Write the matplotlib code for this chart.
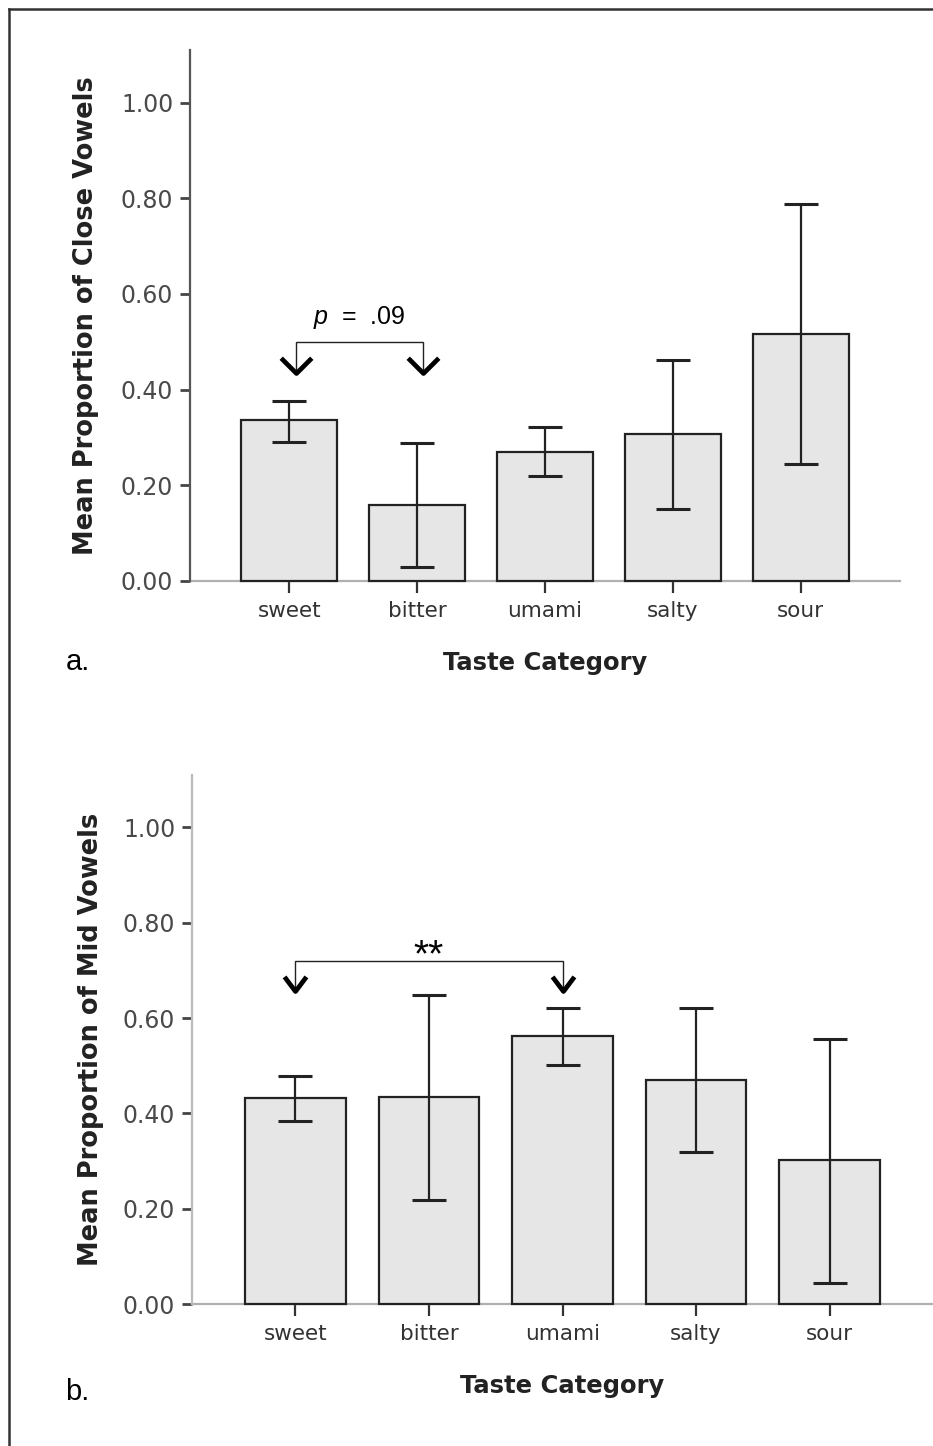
import matplotlib
matplotlib.use("Agg")
import matplotlib.pyplot as plt
import numpy as np
from matplotlib.lines import Line2D
from matplotlib.path import Path
from matplotlib.ticker import FormatStrFormatter

# data
tastes = ["sweet", "bitter", "umami", "salty", "sour"]

close_mean = [0.336, 0.159, 0.269, 0.308, 0.517]
close_low = [0.291, 0.030, 0.220, 0.150, 0.244]
close_high = [0.377, 0.289, 0.321, 0.462, 0.789]

mid_mean = [0.432, 0.435, 0.562, 0.471, 0.302]
mid_low = [0.385, 0.219, 0.502, 0.319, 0.045]
mid_high = [0.479, 0.648, 0.621, 0.622, 0.557]

W, H = 933, 1446

plt.rcParams["mathtext.fontset"] = "custom"
plt.rcParams["mathtext.it"] = "Liberation Sans:italic"
plt.rcParams["mathtext.rm"] = "Liberation Sans"


def px_rect(left, right, top, bottom):
    """Axes rectangle in figure fractions from pixel edges."""
    return [left / W, 1 - bottom / H, (right - left) / W, (bottom - top) / H]


def chevron(spread):
    return Path([(-spread, 1.0), (0.0, 0.0), (spread, 1.0)],
                [Path.MOVETO, Path.LINETO, Path.LINETO])


def draw_panel(ax, means, low, high, ylabel, spine_color):
    x = np.arange(len(tastes))
    means = np.array(means)
    yerr = [means - np.array(low), np.array(high) - means]

    ax.bar(x, means, width=0.75, color="#e6e6e6", edgecolor="#222222",
           linewidth=1.6, zorder=3, clip_on=False)
    ax.errorbar(x, means, yerr=yerr, fmt="none", ecolor="#222222",
                elinewidth=1.6, capsize=12, capthick=2.2, zorder=4)

    ax.set_xlim(-0.775, 4.775)
    ax.set_ylim(0, 1.11)
    ax.set_yticks(np.arange(0, 1.01, 0.2))
    ax.yaxis.set_major_formatter(FormatStrFormatter("%.2f"))
    ax.set_xticks(x)
    ax.set_xticklabels(tastes)

    for side in ["top", "right"]:
        ax.spines[side].set_visible(False)
    ax.spines["left"].set_color(spine_color)
    ax.spines["left"].set_linewidth(1.6)
    ax.spines["bottom"].set_color("#b0b0b0")
    ax.spines["bottom"].set_linewidth(1.6)
    ax.spines["bottom"].set_zorder(2)

    ax.tick_params(axis="y", length=7, width=2, color="#444444",
                   labelsize=17, labelcolor="#4a4a4a", pad=5)
    ax.tick_params(axis="x", length=8.5, width=1.6, color="#333333",
                   labelsize=15.5, labelcolor="#333333", pad=6)

    ax.set_ylabel(ylabel, fontsize=18.5, fontweight="bold", color="#222222")
    ax.set_xlabel("Taste Category", fontsize=17.5, fontweight="bold",
                  color="#222222", va="center")


def draw_bracket(ax, i, j, top, tip, spread, size, shift):
    xs = [i + shift, j + shift]
    ax.plot([xs[0], xs[0], xs[1], xs[1]], [tip, top, top, tip],
            color="#222222", lw=1.0, zorder=5, solid_joinstyle="miter")
    ax.plot(xs, [tip, tip], ls="none", marker=chevron(spread),
            markersize=size, mew=3.4, mec="black", mfc="none", zorder=6)


fig = plt.figure(figsize=(W / 100, H / 100), dpi=100)

ax_a = fig.add_axes(px_rect(190, 900, 50, 581))
draw_panel(ax_a, close_mean, close_low, close_high,
           "Mean Proportion of Close Vowels", "#555555")
draw_bracket(ax_a, 0, 1, 0.499, 0.435, 1.0, 22, 0.05)
ax_a.text(0.55, 0.550, r"$p$  =  .09", ha="center", va="center",
          fontsize=18, family="Liberation Sans", color="black")
ax_a.xaxis.set_label_coords(0.5, -82 / 531)
ax_a.yaxis.set_label_coords(-91 / 710, 0.5)

ax_b = fig.add_axes(px_rect(192, 933, 775, 1304))
draw_panel(ax_b, mid_mean, mid_low, mid_high,
           "Mean Proportion of Mid Vowels", "#bbbbbb")
draw_bracket(ax_b, 0, 2, 0.720, 0.657, 0.75, 21, 0.0)
ax_b.text(1.0, 0.709, "**", ha="center", va="baseline",
          fontsize=28, family="Liberation Sans", color="black")
ax_b.xaxis.set_label_coords(0.5, -82 / 529)
ax_b.yaxis.set_label_coords(-88 / 741, 0.5)

# panel letters
fig.text(66 / W, 1 - 662 / H, "a.", fontsize=21, family="Liberation Sans",
         ha="left", va="center")
fig.text(65 / W, 1 - 1392 / H, "b.", fontsize=21, family="Liberation Sans",
         ha="left", va="center")

# frame around the figure (cropped on the right and bottom)
fig.add_artist(Line2D([9 / W, 1], [1 - 9 / H, 1 - 9 / H], color="#333333", lw=1.8))
fig.add_artist(Line2D([9 / W, 9 / W], [0, 1 - 9 / H], color="#333333", lw=1.8))

fig.savefig("out.png", dpi=100)
